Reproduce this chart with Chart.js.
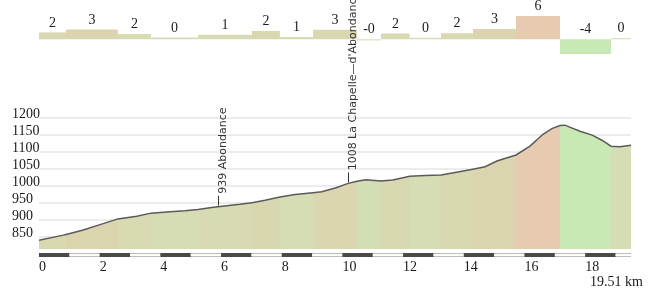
<!DOCTYPE html>
<html>
<head>
<meta charset="utf-8">
<script src="https://cdn.jsdelivr.net/npm/chart.js@4.4.1/dist/chart.umd.min.js"></script>
<style>
  html, body { margin: 0; padding: 0; background: #fff; }
  #wrap { position: relative; width: 650px; height: 289px; }
</style>
</head>
<body>
<div id="wrap"><canvas id="profile" width="650" height="289"></canvas></div>
<script>
// elevation profile, km / metres
const distances = [0, 0.8, 0.89, 1.46, 2.01, 2.6, 3.22, 3.69, 4.32, 4.81, 5.24, 5.69, 5.9, 6.62,
  7.02, 7.45, 7.94, 8.44, 9.03, 9.32, 9.79, 10.19, 10.48, 10.77, 11.27, 11.66, 12.22, 12.72,
  13.25, 13.71, 14.3, 14.7, 15.09, 15.72, 16.18, 16.61, 16.9, 17.17, 17.33, 17.83, 18.25,
  18.58, 18.85, 19.14, 19.51];
const elevations = [840, 855, 857, 870, 886, 903, 911, 920, 924, 927, 931, 937, 939, 946,
  951, 958, 968, 975, 980, 983, 995, 1008, 1014, 1019, 1015, 1018, 1029, 1031,
  1033, 1040, 1050, 1057, 1074, 1092, 1118, 1153, 1170, 1179, 1180, 1162, 1150,
  1134, 1118, 1116, 1121];

// gradient segments (km bounds, grade %, printed label)
const segmentBounds = [0, 0.89, 2.6, 3.69, 5.24, 7.02, 7.94, 9.03, 10.48, 11.27, 12.22,
  13.25, 14.3, 15.72, 17.17, 18.85, 19.51];
const grades = [1.8, 2.6, 1.4, 0.5, 1.2, 2.2, 0.6, 2.5, -0.3, 1.5, 0.4, 1.6, 2.7, 6.1, -3.9, 0.3];
const gradeLabels = ['2', '3', '2', '0', '1', '2', '1', '3', '-0', '2', '0', '2', '3', '6', '-4', '0'];

// named places
const waypointKm = [5.9, 10.19];
const waypointElev = [939, 1008];
const waypointNames = ['Abondance', 'La Chapelle\u2014d\'Abondance'];

const yTicks = [850, 900, 950, 1000, 1050, 1100, 1150, 1200];
const xTicks = [0, 2, 4, 6, 8, 10, 12, 14, 16, 18];
const totalKm = 19.51;

const serif = '14px "Liberation Serif", "Times New Roman", serif';

const gradeStops = [
  [-4, [200, 232, 180]],
  [0, [213, 221, 181]],
  [2, [217, 216, 176]],
  [3, [219, 211, 173]],
  [6, [230, 203, 177]],
];

function gradeColor(g) {
  if (g <= gradeStops[0][0]) return `rgb(${gradeStops[0][1].join(',')})`;
  for (let i = 1; i < gradeStops.length; i += 1) {
    const [g1, c1] = gradeStops[i];
    const [g0, c0] = gradeStops[i - 1];
    if (g <= g1) {
      const t = (g - g0) / (g1 - g0);
      const c = c0.map((v, k) => Math.round(v + (c1[k] - v) * t));
      return `rgb(${c.join(',')})`;
    }
  }
  return `rgb(${gradeStops[gradeStops.length - 1][1].join(',')})`;
}

const profilePoints = distances.map((d, i) => ({ x: d, y: elevations[i] }));

const lineDataset = {
  data: profilePoints,
  borderColor: '#5a5a5a',
  borderWidth: 1.5,
  pointRadius: 0,
  fill: false,
  tension: 0,
  yAxisID: 'y',
};

const bandDatasets = grades.map((g, i) => ({
  data: profilePoints.filter((p) => p.x >= segmentBounds[i] - 1e-6 && p.x <= segmentBounds[i + 1] + 1e-6),
  borderColor: 'rgba(0,0,0,0)',
  borderWidth: 0,
  backgroundColor: gradeColor(g),
  pointRadius: 0,
  fill: 'start',
  tension: 0,
  yAxisID: 'y',
}));

// plain fill under the bands so their seams don't show white
const baseDataset = {
  data: profilePoints,
  borderColor: 'rgba(0,0,0,0)',
  borderWidth: 0,
  backgroundColor: gradeColor(1.5),
  pointRadius: 0,
  fill: 'start',
  tension: 0,
  yAxisID: 'y',
};

const barDatasets = grades.map((g, i) => ({
  data: [{ x: segmentBounds[i], y: g }, { x: segmentBounds[i + 1], y: g }],
  borderColor: 'rgba(0,0,0,0)',
  borderWidth: 0,
  backgroundColor: gradeColor(g),
  pointRadius: 0,
  fill: 'origin',
  tension: 0,
  yAxisID: 'yg',
}));

const overlay = {
  id: 'overlay',
  afterDraw(chart) {
    const { ctx, chartArea } = chart;
    const { x, y, yg } = chart.scales;
    ctx.save();

    // km scale bar under the profile
    const barTop = chartArea.bottom + 4;
    ctx.fillStyle = '#bdbdbd';
    ctx.fillRect(chartArea.left, barTop, chartArea.right - chartArea.left, 4);
    for (let km = 0; km < totalKm; km += 1) {
      const x0 = x.getPixelForValue(km);
      const x1 = x.getPixelForValue(Math.min(km + 1, totalKm));
      if (km % 2 === 0) {
        ctx.fillStyle = '#4a4a4a';
        ctx.fillRect(x0, barTop, x1 - x0, 4);
      } else {
        ctx.fillStyle = '#fcfcfc';
        ctx.fillRect(x0, barTop + 1, x1 - x0, 2);
      }
    }

    ctx.font = serif;
    ctx.fillStyle = '#1a1a1a';

    // y labels
    ctx.textAlign = 'left';
    ctx.textBaseline = 'alphabetic';
    yTicks.forEach((v) => {
      ctx.fillText(String(v), 12, Math.round(y.getPixelForValue(v)));
    });

    // x labels
    xTicks.forEach((v) => {
      ctx.fillText(String(v), x.getPixelForValue(v), 271);
    });
    ctx.textAlign = 'right';
    ctx.fillText(`${totalKm} km`, 643, 286);

    // grade labels
    ctx.textAlign = 'center';
    ctx.textBaseline = 'middle';
    grades.forEach((g, i) => {
      const mid = x.getPixelForValue((segmentBounds[i] + segmentBounds[i + 1]) / 2);
      const top = Math.min(yg.getPixelForValue(g), yg.getPixelForValue(0));
      ctx.fillText(gradeLabels[i], mid, top - 9.5);
    });

    // waypoint labels: short leader, then rotated name
    ctx.font = '11px "DejaVu Sans", sans-serif';
    ctx.fillStyle = '#333';
    ctx.strokeStyle = '#333';
    ctx.lineWidth = 1;
    ctx.textAlign = 'left';
    ctx.textBaseline = 'top';
    waypointKm.forEach((km, i) => {
      const px = Math.round(x.getPixelForValue(km)) + 0.5;
      const py = y.getPixelForValue(waypointElev[i]);
      ctx.beginPath();
      ctx.moveTo(px, py - 1);
      ctx.lineTo(px, py - 11);
      ctx.stroke();
      ctx.save();
      ctx.translate(px - 1, py - 13);
      ctx.rotate(-Math.PI / 2);
      ctx.fillText(`${waypointElev[i]} ${waypointNames[i]}`, 0, 0);
      ctx.restore();
    });

    ctx.restore();
  },
};

new Chart(document.getElementById('profile'), {
  type: 'line',
  data: { datasets: [lineDataset, ...bandDatasets, baseDataset, ...barDatasets] },
  options: {
    responsive: false,
    animation: false,
    devicePixelRatio: 1,
    layout: { padding: { left: 39, right: 19, top: 0, bottom: 40 } },
    plugins: { legend: { display: false }, tooltip: { enabled: false } },
    scales: {
      x: { type: 'linear', min: 0, max: totalKm, display: false },
      y: {
        type: 'linear',
        min: 814,
        max: 1550,
        z: 1,
        grid: { color: 'rgba(0,0,0,0.075)', lineWidth: 2, drawTicks: false },
        border: { display: false },
        ticks: { display: false },
        afterBuildTicks: (scale) => {
          scale.ticks = yTicks.map((v) => ({ value: v }));
        },
      },
      yg: { type: 'linear', min: -55.19, max: 10.34, display: false },
    },
  },
  plugins: [overlay],
});
</script>
</body>
</html>
